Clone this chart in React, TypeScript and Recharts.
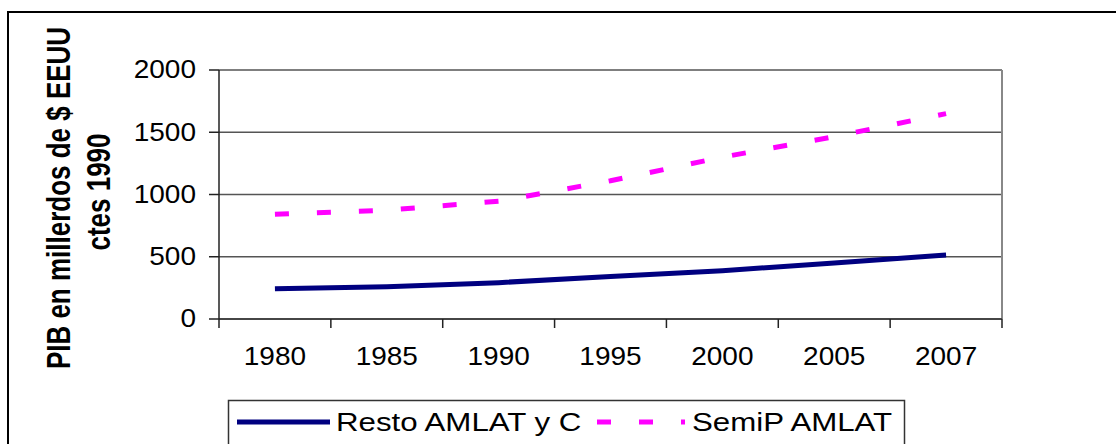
import React from "react";
import { LineChart, Line, XAxis, YAxis, CartesianGrid, ReferenceLine } from "recharts";

const years = ["1980", "1985", "1990", "1995", "2000", "2005", "2007"];
const restoAmlat = [243, 260, 292, 342, 388, 450, 514];
const semipAmlat = [842, 874, 946, 1110, 1300, 1465, 1650];
const yTicks = [0, 500, 1000, 1500, 2000];
const seriesNames = ["Resto AMLAT y C", "SemiP AMLAT"];
const titleLines = ["PIB en millerdos de $ EEUU", "ctes 1990"];

const data = years.map((year, i) => ({
  idx: i,
  year,
  resto: restoAmlat[i],
  semip: semipAmlat[i],
}));

const W = 1116;
const H = 444;
const LEFT = 219;
const RIGHT = 114;
const TOP = 70;
const XAXIS_H = 125;
const half = (W - LEFT - RIGHT) / years.length / 2;
const FONT = '"Liberation Sans", Arial, sans-serif';
// the source image is stretched sideways a bit, so widen the text to match
const TICK_SX = 1.12;
const LEGEND_SX = 1.25;
const TITLE_SX = 1.27;

function XTick(props: any) {
  const { x, y, payload } = props;
  const i = payload.value as number;
  const axisY = y - 38;
  return (
    <g>
      <line x1={x - half} x2={x - half} y1={axisY} y2={axisY + 9} stroke="#222" strokeWidth={1.5} />
      {i === years.length - 1 && (
        <line x1={x + half} x2={x + half} y1={axisY} y2={axisY + 9} stroke="#222" strokeWidth={1.5} />
      )}
      <text
        transform={`translate(${x},${y}) scale(${TICK_SX},1)`}
        textAnchor="middle"
        dominantBaseline="central"
        fontSize={25}
        fontFamily={FONT}
        fill="#000"
      >
        {years[i]}
      </text>
    </g>
  );
}

function YTick(props: any) {
  const { x, y, payload } = props;
  return (
    <text
      transform={`translate(${x},${y}) scale(${TICK_SX},1)`}
      textAnchor="end"
      dominantBaseline="central"
      fontSize={25}
      fontFamily={FONT}
      fill="#000"
    >
      {payload.value}
    </text>
  );
}

export default function App() {
  return (
    <div style={{ position: "fixed", left: 0, top: 0, width: W, height: H, overflow: "hidden", background: "#fff" }}>
      <div
        style={{
          position: "absolute",
          left: 7,
          top: 11,
          width: 1300,
          height: 600,
          borderLeft: "2px solid #000",
          borderTop: "2px solid #000",
        }}
      />
      <div style={{ position: "absolute", left: 0, top: 0 }}>
        <LineChart width={W} height={H} data={data} margin={{ top: TOP, right: RIGHT, left: 0, bottom: 0 }}>
          <CartesianGrid vertical={false} stroke="#555" strokeWidth={1.5} />
          <XAxis
            type="number"
            dataKey="idx"
            domain={[-0.5, 6.5]}
            ticks={[0, 1, 2, 3, 4, 5, 6]}
            interval={0}
            height={XAXIS_H}
            tickLine={false}
            tickSize={8}
            tickMargin={30}
            axisLine={{ stroke: "#333", strokeWidth: 1.5 }}
            tick={(p: any) => <XTick {...p} />}
          />
          <YAxis
            domain={[0, 2000]}
            ticks={yTicks}
            interval={0}
            width={LEFT}
            tickSize={10}
            tickMargin={13}
            axisLine={{ stroke: "#222", strokeWidth: 1.5 }}
            tickLine={{ stroke: "#222", strokeWidth: 1.5 }}
            tick={(p: any) => <YTick {...p} />}
          />
          <ReferenceLine x={6.5} stroke="#888" strokeWidth={2} />
          <Line
            type="linear"
            dataKey="resto"
            name={seriesNames[0]}
            stroke="#000080"
            strokeWidth={5}
            dot={false}
            isAnimationActive={false}
          />
          <Line
            type="linear"
            dataKey="semip"
            name={seriesNames[1]}
            stroke="#FF00FF"
            strokeWidth={5}
            strokeDasharray="14 28"
            dot={false}
            isAnimationActive={false}
          />
        </LineChart>
      </div>
      <svg width={W} height={H} style={{ position: "absolute", left: 0, top: 0, pointerEvents: "none" }}>
        <text
          transform={`translate(58,198) scale(${TITLE_SX},1) rotate(-90)`}
          textAnchor="middle"
          dominantBaseline="central"
          fontSize={26}
          fontWeight="bold"
          fontFamily={FONT}
          fill="#000"
        >
          {titleLines[0]}
        </text>
        <text
          transform={`translate(98,192) scale(${TITLE_SX},1) rotate(-90)`}
          textAnchor="middle"
          dominantBaseline="central"
          fontSize={26}
          fontWeight="bold"
          fontFamily={FONT}
          fill="#000"
        >
          {titleLines[1]}
        </text>

        {/* legend */}
        <rect x={228.5} y={400.5} width={676} height={80} fill="#fff" stroke="#333" strokeWidth={1.5} />
        <line x1={237} x2={330} y1={422} y2={422} stroke="#000080" strokeWidth={5} />
        <text
          transform={`translate(336,422) scale(${LEGEND_SX},1)`}
          dominantBaseline="central"
          fontSize={25}
          fontFamily={FONT}
          fill="#000"
        >
          {seriesNames[0]}
        </text>
        <line x1={597} x2={685} y1={422} y2={422} stroke="#FF00FF" strokeWidth={5} strokeDasharray="14 28" />
        <text
          transform={`translate(692,422) scale(${LEGEND_SX},1)`}
          dominantBaseline="central"
          fontSize={25}
          fontFamily={FONT}
          fill="#000"
        >
          {seriesNames[1]}
        </text>
      </svg>
    </div>
  );
}
